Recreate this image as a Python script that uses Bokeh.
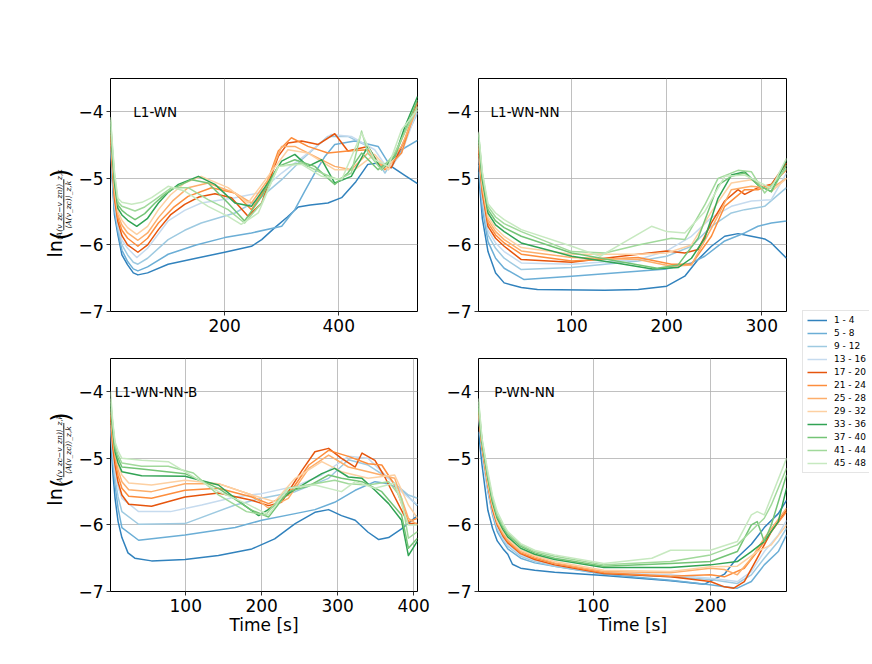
import math
from bokeh.plotting import figure
from bokeh.models import Range1d, FixedTicker, CustomJSTickFormatter, Label, Legend, LegendItem
from bokeh.layouts import row, column
from bokeh.embed import file_html
from bokeh.resources import INLINE
from bokeh.core.properties import value

FONT = "DejaVu Sans"

groups = ["1 - 4", "5 - 8", "9 - 12", "13 - 16", "17 - 20", "21 - 24",
          "25 - 28", "29 - 32", "33 - 36", "37 - 40", "41 - 44", "45 - 48"]
colors = ["#3182bd", "#6baed6", "#9ecae1", "#c6dbef",
          "#e6550d", "#fd8d3c", "#fdae6b", "#fdd0a2",
          "#31a354", "#74c476", "#a1d99b", "#c7e9c0"]
y_ticks = [-7, -6, -5, -4]

# ---------------- L1-WN ----------------
L1_WN = [
    [(0,-4.6),(3,-5.0),(7,-5.55),(13,-5.85),(20,-6.15),(30,-6.3),(40,-6.42),(48,-6.45),(65,-6.42),(101,-6.29),(150,-6.2),(200,-6.11),(247,-6.02),(265,-5.92),(288,-5.74),(310,-5.58),(329,-5.43),(350,-5.4),(381,-5.37),(405,-5.29),(430,-5.05),(451,-4.79),(470,-4.77),(492,-4.82),(515,-4.95),(538,-5.08)],
    [(0,-4.55),(3,-4.95),(7,-5.49),(13,-5.8),(20,-6.08),(30,-6.25),(40,-6.36),(48,-6.39),(65,-6.33),(101,-6.14),(150,-6.0),(200,-5.89),(247,-5.82),(300,-5.72),(323,-5.47),(340,-5.2),(358,-4.92),(375,-4.68),(393,-4.49),(428,-4.44),(469,-4.52),(492,-4.84),(510,-4.57),(538,-4.43)],
    [(0,-4.5),(3,-4.9),(7,-5.43),(13,-5.75),(20,-6.0),(30,-6.15),(40,-6.26),(48,-6.29),(65,-6.2),(101,-5.92),(130,-5.78),(159,-5.67),(218,-5.52),(259,-5.32),(300,-5.02),(335,-4.72),(381,-4.37),(416,-4.37),(451,-4.52),(481,-4.92),(510,-4.52),(538,-4.02)],
    [(0,-4.45),(3,-4.85),(7,-5.37),(13,-5.7),(20,-5.93),(30,-6.05),(46,-6.19),(65,-6.05),(101,-5.64),(130,-5.48),(159,-5.37),(218,-5.29),(259,-5.22),(300,-4.92),(346,-4.62),(387,-4.34),(422,-4.37),(463,-4.57),(487,-4.87),(510,-4.62),(538,-3.97)],
    [(0,-4.4),(3,-4.8),(7,-5.31),(13,-5.65),(20,-5.86),(30,-6.0),(48,-6.11),(65,-6.0),(84,-5.77),(105,-5.55),(130,-5.39),(155,-5.28),(183,-5.23),(212,-5.29),(241,-5.57),(265,-5.37),(280,-5.0),(294,-4.67),(311,-4.47),(335,-4.44),(364,-4.49),(393,-4.33),(416,-4.59),(451,-4.52),(469,-4.77),(492,-4.84),(516,-4.42),(538,-3.85)],
    [(0,-4.35),(3,-4.75),(7,-5.25),(13,-5.6),(20,-5.78),(30,-5.9),(48,-6.02),(65,-5.9),(84,-5.67),(110,-5.44),(136,-5.27),(177,-5.14),(218,-5.22),(247,-5.47),(270,-5.17),(294,-4.59),(317,-4.39),(346,-4.52),(381,-4.62),(416,-4.59),(451,-4.57),(481,-4.87),(510,-4.62),(538,-3.87)],
    [(0,-4.3),(3,-4.7),(7,-5.19),(13,-5.55),(20,-5.7),(30,-5.82),(48,-5.93),(65,-5.82),(84,-5.59),(110,-5.33),(136,-5.14),(171,-5.07),(218,-5.22),(247,-5.37),(276,-5.02),(300,-4.52),(323,-4.52),(358,-4.67),(393,-4.82),(422,-4.87),(451,-4.62),(481,-4.84),(510,-4.52),(538,-3.94)],
    [(0,-4.25),(3,-4.65),(7,-5.13),(13,-5.5),(20,-5.63),(30,-5.74),(46,-5.84),(65,-5.72),(84,-5.47),(105,-5.25),(130,-5.07),(159,-4.97),(206,-5.14),(241,-5.37),(276,-4.97),(311,-4.57),(346,-4.62),(393,-4.87),(428,-4.87),(463,-4.64),(487,-4.87),(510,-4.42),(538,-3.92)],
    [(0,-4.2),(3,-4.6),(7,-5.07),(13,-5.45),(20,-5.55),(30,-5.63),(46,-5.72),(65,-5.6),(84,-5.37),(100,-5.22),(119,-5.09),(154,-4.97),(183,-5.09),(218,-5.37),(247,-5.42),(276,-5.07),(300,-4.74),(323,-4.64),(346,-4.82),(370,-4.72),(393,-5.07),(422,-4.97),(451,-4.52),(475,-4.87),(498,-4.67),(516,-4.22),(538,-3.77)],
    [(0,-4.15),(3,-4.55),(7,-5.01),(13,-5.4),(20,-5.48),(30,-5.55),(43,-5.62),(60,-5.53),(78,-5.37),(95,-5.24),(113,-5.14),(142,-5.02),(171,-5.07),(206,-5.37),(235,-5.64),(265,-5.27),(294,-4.82),(323,-4.72),(358,-4.82),(393,-5.09),(416,-4.92),(440,-4.62),(469,-4.87),(498,-4.67),(538,-3.82)],
    [(0,-4.12),(3,-4.5),(7,-4.95),(13,-5.35),(20,-5.42),(30,-5.45),(43,-5.49),(60,-5.43),(78,-5.32),(107,-5.14),(136,-5.14),(171,-5.32),(206,-5.47),(235,-5.67),(265,-5.37),(294,-4.82),(335,-4.77),(370,-4.92),(399,-5.02),(422,-4.92),(440,-4.29),(451,-4.62),(475,-4.87),(498,-4.62),(538,-3.92)],
    [(0,-4.08),(3,-4.45),(7,-4.9),(13,-5.3),(20,-5.36),(37,-5.39),(55,-5.36),(72,-5.29),(101,-5.12),(130,-5.19),(171,-5.42),(206,-5.57),(229,-5.69),(259,-5.52),(294,-4.82),(335,-4.79),(370,-4.97),(405,-5.02),(440,-4.32),(463,-4.72),(487,-4.82),(510,-4.27),(538,-3.97)],
]

# ---------------- L1-WN-NN ----------------
L1_WN_NN = [
    [(2,-4.9),(6,-5.6),(12,-6.1),(20,-6.42),(29,-6.57),(47,-6.64),(64,-6.67),(135,-6.68),(170,-6.67),(200,-6.62),(219,-6.47),(233,-6.22),(247,-6.02),(261,-5.87),(275,-5.83),(289,-5.87),(303,-5.91),(310,-5.97),(326,-6.2)],
    [(2,-4.8),(6,-5.45),(12,-5.95),(20,-6.2),(29,-6.35),(50,-6.52),(100,-6.47),(200,-6.36),(226,-6.27),(240,-6.17),(261,-5.94),(282,-5.82),(296,-5.72),(310,-5.67),(326,-5.64)],
    [(2,-4.7),(6,-5.35),(12,-5.85),(20,-6.05),(29,-6.2),(47,-6.37),(100,-6.34),(170,-6.24),(200,-6.17),(226,-6.02),(247,-5.72),(268,-5.52),(282,-5.47),(303,-5.42),(326,-5.14)],
    [(2,-4.65),(6,-5.28),(12,-5.78),(20,-5.97),(29,-6.1),(47,-6.27),(100,-6.29),(170,-6.22),(200,-6.09),(226,-5.87),(247,-5.59),(268,-5.42),(289,-5.34),(310,-5.32),(326,-4.92)],
    [(2,-4.6),(6,-5.22),(12,-5.72),(20,-5.9),(29,-6.02),(47,-6.22),(100,-6.26),(170,-6.14),(200,-6.09),(219,-6.12),(233,-6.07),(247,-5.67),(261,-5.34),(275,-5.17),(282,-5.24),(296,-5.14),(310,-5.09),(326,-4.77)],
    [(2,-4.55),(6,-5.17),(12,-5.67),(20,-5.85),(29,-5.97),(47,-6.14),(100,-6.24),(170,-6.19),(205,-6.29),(226,-6.29),(247,-5.87),(261,-5.42),(282,-5.17),(296,-5.17),(310,-5.1),(326,-4.87)],
    [(2,-4.5),(6,-5.12),(12,-5.62),(20,-5.8),(29,-5.92),(47,-6.09),(100,-6.19),(170,-6.22),(205,-6.32),(226,-6.3),(247,-5.75),(268,-5.17),(289,-5.12),(310,-5.15),(326,-5.0)],
    [(2,-4.45),(6,-5.08),(12,-5.58),(20,-5.75),(29,-5.87),(47,-6.04),(100,-6.14),(170,-6.14),(200,-6.12),(226,-6.0),(247,-5.5),(268,-5.07),(289,-5.02),(310,-5.2),(326,-5.0)],
    [(2,-4.4),(6,-5.02),(12,-5.52),(20,-5.7),(29,-5.8),(47,-5.97),(100,-6.17),(150,-6.28),(185,-6.36),(212,-6.34),(226,-6.2),(240,-5.9),(254,-5.3),(268,-4.95),(282,-4.9),(296,-5.1),(310,-5.2),(326,-4.72)],
    [(2,-4.35),(6,-4.97),(12,-5.47),(20,-5.64),(29,-5.74),(47,-5.87),(100,-6.12),(150,-6.25),(190,-6.35),(212,-6.3),(233,-5.9),(254,-5.1),(268,-4.97),(282,-4.92),(296,-5.1),(310,-5.2),(326,-4.8)],
    [(2,-4.32),(6,-4.93),(12,-5.42),(20,-5.58),(29,-5.68),(47,-5.8),(100,-6.1),(135,-6.12),(170,-6.0),(205,-5.9),(219,-5.92),(240,-5.4),(254,-5.0),(275,-4.88),(289,-4.9),(303,-5.22),(326,-4.85)],
    [(2,-4.3),(6,-4.9),(12,-5.38),(20,-5.52),(29,-5.62),(47,-5.77),(100,-6.02),(130,-6.17),(184,-5.72),(200,-5.8),(219,-5.82),(240,-5.5),(261,-4.97),(282,-4.95),(296,-5.05),(310,-5.15),(326,-4.7)],
]

# ---------------- L1-WN-NN-B ----------------
L1_WN_NN_B = [
    [(1,-4.6),(4,-5.2),(7,-5.6),(11,-5.95),(16,-6.19),(24,-6.42),(33,-6.5),(55,-6.54),(99,-6.52),(143,-6.46),(187,-6.36),(217,-6.21),(244,-5.98),(270,-5.81),(288,-5.77),(305,-5.86),(323,-5.93),(340,-6.11),(354,-6.22),(367,-6.19),(384,-6.06),(405,-5.86)],
    [(1,-4.55),(4,-5.05),(7,-5.4),(11,-5.75),(16,-6.04),(38,-6.23),(99,-6.15),(165,-6.04),(200,-5.93),(244,-5.83),(270,-5.77),(296,-5.66),(323,-5.48),(349,-5.35),(367,-5.38),(384,-5.48),(405,-5.71)],
    [(1,-4.5),(4,-4.97),(7,-5.3),(11,-5.58),(16,-5.8),(38,-5.99),(99,-5.98),(165,-5.7),(200,-5.6),(244,-5.5),(288,-5.3),(314,-5.02),(340,-5.1),(367,-5.3),(393,-5.55),(405,-5.6)],
    [(1,-4.45),(4,-4.9),(7,-5.2),(11,-5.43),(16,-5.6),(38,-5.8),(80,-5.8),(121,-5.7),(165,-5.58),(200,-5.53),(244,-5.42),(279,-5.25),(314,-4.97),(340,-5.0),(367,-5.3),(384,-5.5),(405,-5.7)],
    [(1,-4.4),(4,-4.83),(7,-5.1),(11,-5.36),(16,-5.55),(25,-5.69),(55,-5.72),(99,-5.58),(143,-5.52),(187,-5.63),(209,-5.71),(226,-5.66),(253,-5.18),(270,-4.9),(288,-4.85),(305,-5.0),(323,-5.13),(332,-4.92),(349,-5.03),(362,-5.28),(375,-5.58),(393,-5.98),(405,-5.98)],
    [(1,-4.35),(4,-4.76),(7,-5.0),(11,-5.26),(16,-5.45),(25,-5.57),(55,-5.6),(99,-5.48),(143,-5.45),(187,-5.58),(209,-5.68),(235,-5.55),(262,-5.1),(288,-4.88),(314,-4.97),(340,-5.08),(358,-5.1),(375,-5.4),(393,-5.95),(405,-5.9)],
    [(1,-4.3),(4,-4.69),(7,-4.95),(11,-5.17),(16,-5.35),(25,-5.47),(55,-5.5),(99,-5.38),(143,-5.38),(187,-5.55),(209,-5.75),(235,-5.6),(262,-5.15),(288,-4.95),(314,-5.13),(340,-5.2),(375,-5.3),(393,-5.9),(405,-6.0)],
    [(1,-4.25),(4,-4.62),(7,-4.9),(11,-5.1),(16,-5.25),(25,-5.37),(55,-5.4),(99,-5.33),(143,-5.38),(187,-5.55),(217,-5.65),(244,-5.3),(279,-5.05),(305,-5.2),(340,-5.3),(375,-5.25),(393,-5.7),(405,-5.9)],
    [(1,-4.2),(4,-4.58),(7,-4.9),(11,-5.07),(16,-5.2),(42,-5.26),(99,-5.27),(143,-5.4),(174,-5.68),(196,-5.86),(217,-5.71),(235,-5.53),(261,-5.35),(279,-5.23),(296,-5.15),(314,-5.28),(332,-5.3),(349,-5.48),(367,-5.68),(384,-5.93),(393,-6.46),(405,-6.24)],
    [(1,-4.15),(4,-4.52),(7,-4.85),(11,-5.0),(16,-5.13),(42,-5.16),(99,-5.23),(143,-5.45),(187,-5.78),(209,-5.88),(235,-5.5),(261,-5.42),(288,-5.25),(305,-5.3),(332,-5.35),(358,-5.5),(384,-5.85),(393,-6.35),(405,-6.2)],
    [(1,-4.1),(4,-4.48),(7,-4.8),(11,-4.95),(16,-5.07),(42,-5.12),(77,-5.12),(110,-5.22),(143,-5.55),(180,-5.8),(205,-5.85),(235,-5.45),(270,-5.38),(296,-5.33),(314,-5.38),(340,-5.4),(367,-5.35),(384,-5.6),(393,-6.2),(405,-6.1)],
    [(1,-4.0),(4,-4.45),(7,-4.75),(11,-4.89),(16,-5.0),(42,-5.03),(77,-5.05),(99,-5.2),(143,-5.5),(180,-5.68),(209,-5.85),(235,-5.45),(270,-5.4),(305,-5.5),(323,-5.35),(349,-5.45),(375,-5.37),(393,-6.0),(405,-6.0)],
]

# ---------------- P-WN-NN ----------------
P_WN_NN = [
    [(2,-4.6),(5,-5.1),(10,-5.78),(14,-6.05),(18,-6.24),(23,-6.36),(27,-6.44),(31,-6.59),(38,-6.65),(50,-6.68),(67,-6.71),(109,-6.76),(166,-6.84),(195,-6.89),(212,-6.74),(223,-6.49),(235,-6.29),(246,-6.04),(258,-5.83),(265,-5.63)],
    [(2,-4.35),(5,-4.9),(10,-5.5),(14,-5.85),(18,-6.1),(23,-6.25),(27,-6.36),(38,-6.5),(50,-6.57),(67,-6.62),(109,-6.74),(166,-6.83),(200,-6.9),(212,-6.93),(223,-6.95),(235,-6.85),(246,-6.6),(258,-6.4),(265,-6.15)],
    [(2,-4.35),(5,-4.88),(10,-5.45),(14,-5.82),(18,-6.05),(23,-6.22),(27,-6.32),(38,-6.47),(50,-6.55),(67,-6.62),(109,-6.73),(166,-6.78),(200,-6.82),(223,-6.88),(235,-6.75),(246,-6.5),(258,-6.25),(265,-6.05)],
    [(2,-4.35),(5,-4.86),(10,-5.45),(14,-5.8),(18,-6.02),(23,-6.2),(27,-6.3),(38,-6.45),(50,-6.53),(67,-6.6),(109,-6.72),(166,-6.75),(200,-6.8),(223,-6.85),(235,-6.7),(246,-6.4),(258,-6.15),(265,-5.93)],
    [(2,-4.3),(5,-4.84),(10,-5.4),(14,-5.77),(18,-6.0),(23,-6.17),(27,-6.27),(38,-6.43),(50,-6.52),(67,-6.6),(109,-6.73),(166,-6.78),(200,-6.85),(212,-6.93),(220,-6.95),(229,-6.85),(240,-6.5),(252,-6.1),(265,-5.78)],
    [(2,-4.3),(5,-4.82),(10,-5.4),(14,-5.74),(18,-5.98),(23,-6.15),(27,-6.25),(38,-6.42),(50,-6.5),(67,-6.58),(109,-6.72),(166,-6.77),(200,-6.75),(212,-6.78),(229,-6.65),(240,-6.4),(252,-6.1),(265,-5.8)],
    [(2,-4.28),(5,-4.8),(10,-5.38),(14,-5.72),(18,-5.96),(23,-6.13),(27,-6.23),(38,-6.4),(50,-6.48),(67,-6.57),(109,-6.7),(166,-6.72),(200,-6.65),(212,-6.67),(223,-6.75),(235,-6.5),(246,-6.2),(265,-5.75)],
    [(2,-4.25),(5,-4.78),(10,-5.35),(14,-5.7),(18,-5.95),(23,-6.1),(27,-6.2),(38,-6.38),(50,-6.46),(67,-6.55),(109,-6.68),(166,-6.7),(200,-6.63),(223,-6.62),(240,-6.4),(252,-6.3),(265,-6.0)],
    [(2,-4.25),(5,-4.76),(10,-5.3),(14,-5.66),(18,-5.9),(23,-6.07),(27,-6.18),(38,-6.35),(50,-6.44),(67,-6.52),(109,-6.64),(166,-6.64),(200,-6.6),(223,-6.55),(235,-6.4),(246,-6.25),(258,-5.95),(265,-5.45)],
    [(2,-4.2),(5,-4.74),(10,-5.28),(14,-5.63),(18,-5.88),(23,-6.04),(27,-6.15),(38,-6.32),(50,-6.42),(67,-6.5),(109,-6.62),(166,-6.58),(200,-6.55),(223,-6.4),(235,-6.0),(240,-5.95),(246,-6.25),(252,-6.0),(265,-5.25)],
    [(2,-4.15),(5,-4.72),(10,-5.25),(14,-5.6),(18,-5.85),(23,-6.01),(27,-6.12),(38,-6.3),(50,-6.4),(67,-6.47),(109,-6.6),(166,-6.55),(200,-6.45),(223,-6.3),(240,-6.0),(246,-5.9),(252,-5.7),(265,-5.15)],
    [(2,-4.1),(5,-4.7),(10,-5.2),(14,-5.56),(18,-5.8),(23,-5.98),(27,-6.1),(38,-6.28),(50,-6.38),(67,-6.45),(109,-6.58),(150,-6.5),(166,-6.38),(200,-6.38),(223,-6.25),(235,-5.85),(240,-5.8),(246,-5.85),(265,-5.0)],
]

panel_names = ["L1-WN", "L1-WN-NN", "L1-WN-NN-B", "P-WN-NN"]
panel_data = [L1_WN, L1_WN_NN, L1_WN_NN_B, P_WN_NN]
x_limits = [(0, 538), (2, 326), (1, 405), (2, 265)]
x_ticks = [[200, 400], [100, 200, 300], [100, 200, 300, 400], [100, 200]]
name_x = [40, 14.7, 6.6, 15.4]

minus_fmt = "return (tick < 0 ? '\u2212' : '') + Math.abs(tick).toFixed(0);"


def make_panel(i, left, right, top, bottom, fw, xlabel):
    p = figure(frame_width=fw, frame_height=233,
               x_range=Range1d(*x_limits[i]), y_range=Range1d(-7, -3.5),
               output_backend="svg", toolbar_location=None, tools="",
               min_border_left=left, min_border_right=right,
               min_border_top=top, min_border_bottom=bottom)
    p.background_fill_color = "white"
    p.border_fill_color = "white"
    p.outline_line_color = "black"
    p.outline_line_width = 1
    p.outline_line_alpha = 1
    p.xaxis.ticker = FixedTicker(ticks=x_ticks[i])
    p.yaxis.ticker = FixedTicker(ticks=y_ticks)
    for ax in (p.xaxis[0], p.yaxis[0]):
        ax.formatter = CustomJSTickFormatter(code=minus_fmt)
        ax.axis_line_color = None
        ax.major_tick_line_color = "black"
        ax.major_tick_line_width = 0.8
        ax.major_tick_out = 4
        ax.major_tick_in = 0
        ax.minor_tick_line_color = None
        ax.major_label_text_font = FONT
        ax.major_label_text_font_size = "17px"
        ax.major_label_text_color = "black"
        ax.major_label_standoff = 3
    if xlabel:
        p.xaxis.axis_label = "Time [s]"
        p.xaxis.axis_label_text_font = FONT
        p.xaxis.axis_label_text_font_size = "17px"
        p.xaxis.axis_label_text_font_style = "normal"
        p.xaxis.axis_label_text_color = "black"
        p.xaxis.axis_label_standoff = 0
    p.grid.grid_line_color = "#b0b0b0"
    p.grid.grid_line_width = 0.8
    for k, series in enumerate(panel_data[i]):
        ts = [a for a, b in series]
        vs = [b for a, b in series]
        p.line(ts, vs, line_color=colors[k], line_width=1.5, line_join="round")
    p.add_layout(Label(x=name_x[i], y=-4.0, text=panel_names[i], text_font=FONT,
                       text_font_size="13.5px", text_baseline="middle",
                       text_align="left", text_color="black"))
    return p


def make_ylabel(height, base):
    f = figure(width=75, height=height, x_range=Range1d(0, 75), y_range=Range1d(0, height),
               output_backend="svg", toolbar_location=None, tools="",
               min_border=0)
    f.axis.visible = False
    f.grid.visible = False
    f.outline_line_color = None
    a = math.pi / 2
    f.text(x=[54], y=[base - 169], text=["ln"], angle=a, text_font=value(FONT),
           text_font_size="19px", text_align="center", text_baseline="middle", text_color="black")
    f.text(x=[60, 60], y=[base - 150, base - 60], text=["(", ")"], angle=a,
           text_font=value(FONT), text_font_size="24px", text_align="center",
           text_baseline="middle", text_color="black")
    f.text(x=[58.5], y=[base - 105], text=["⟨A(v_zc−v_zn)⟩_z,k"], angle=a,
           text_font=value("DejaVu Serif"), text_font_style="italic", text_font_size="7.5px",
           text_align="center", text_baseline="middle", text_color="black")
    f.text(x=[68], y=[base - 105], text=["⟨A(v_zc)⟩_z,k"], angle=a,
           text_font=value("DejaVu Serif"), text_font_style="italic", text_font_size="7.5px",
           text_align="center", text_baseline="middle", text_color="black")
    f.line(x=[63.3, 63.3], y=[base - 68, base - 142], line_color="black", line_width=0.8)
    return f


p1 = make_panel(0, 34, 24, 78, 27, 307, False)
p2 = make_panel(1, 37, 10, 78, 27, 308, False)
p3 = make_panel(2, 34, 24, 20, 65, 307, True)
p4 = make_panel(3, 37, 10, 20, 65, 308, True)
yl1 = make_ylabel(338, 260)
yl2 = make_ylabel(318, 298)

lf = figure(width=73, height=656, x_range=Range1d(0, 1), y_range=Range1d(0, 1),
            output_backend="svg", toolbar_location=None, tools="", min_border=0)
lf.axis.visible = False
lf.grid.visible = False
lf.outline_line_color = None
items = []
for k, g in enumerate(groups):
    r = lf.line(x=[-10, -9], y=[-10, -9], line_color=colors[k], line_width=1.5)
    items.append(LegendItem(label=g, renderers=[r]))
leg = Legend(items=items, location=(6, 183), orientation="vertical",
             label_text_font=FONT, label_text_font_size="9px", label_text_color="black",
             glyph_width=20, glyph_height=10, label_height=10, spacing=3,
             padding=4, margin=0, label_standoff=7,
             border_line_color="#cccccc", border_line_width=1,
             background_fill_color="white", background_fill_alpha=0.8)
lf.add_layout(leg)

layout = row(column(row(yl1, p1, p2), row(yl2, p3, p4)), lf)

with open("out.html", "w") as fh:
    fh.write(file_html(layout, INLINE))
